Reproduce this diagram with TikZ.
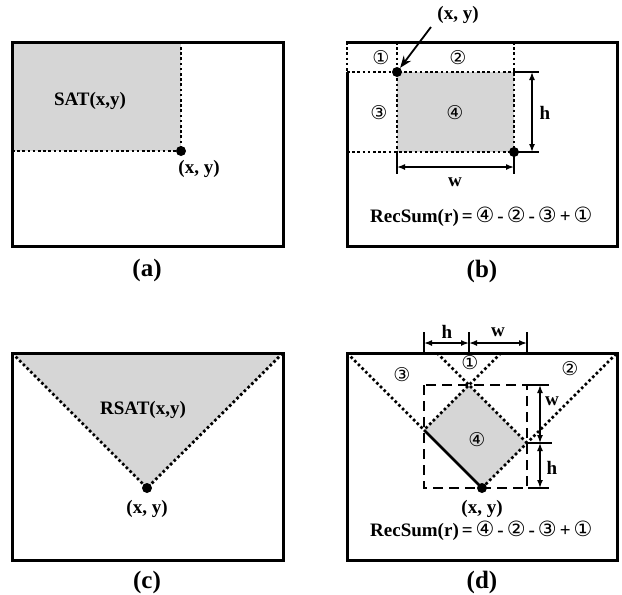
\documentclass[tikz,border=0pt]{standalone}
\usepackage{fontspec}
\setmainfont{Liberation Serif}
\newfontfamily\circf{DejaVu Sans}
\usetikzlibrary{arrows.meta}
\tikzset{
  frame/.style={line width=3pt},
  dotl/.style={line width=2.8pt, dash pattern=on 2.6pt off 2.6pt},
  dashl/.style={line width=2.8pt, dash pattern=on 10pt off 6pt},
  shade/.style={fill=black!16, draw=none},
  lbl/.style={font=\fontsize{19}{21}\selectfont\bfseries, inner sep=0pt},
  capt/.style={font=\fontsize{25}{27}\selectfont\bfseries, inner sep=0pt},
  num/.style={font=\circf\fontsize{19}{20}\selectfont, inner sep=0pt},
  formula/.style={font=\fontsize{19}{21}\selectfont\bfseries, inner sep=0pt, anchor=west},
  blob/.style={circle, fill=black, inner sep=0pt, minimum size=10pt},
  dimarr/.style={line width=1.5pt, {Latex[length=8pt,width=6pt]}-{Latex[length=8pt,width=6pt]}},
  extl/.style={line width=1.5pt},
  pointer/.style={line width=1.8pt, -{Stealth[length=12pt,width=9pt]}}
}
\newcommand{\cf}[1]{{\circf\fontsize{21}{21}\selectfont\mdseries #1}}
\newcommand{\gapsp}{\hspace{3pt}}
\newcommand{\recsum}{RecSum(r)\gapsp=\gapsp\cf{④}\gapsp-\gapsp\cf{②}\gapsp-\gapsp\cf{③}\gapsp+\gapsp\cf{①}}
\begin{document}
\begin{tikzpicture}[x=1pt,y=-1pt]
\useasboundingbox (0,0) rectangle (622,595);

% ---------------- (a) ----------------
\fill[shade] (12,42) rectangle (181,151);
\draw[dotl] (12,151) -- (181,151) -- (181,42);
\draw[frame] (12,42) rectangle (283,246);
\node[blob] (adot) at (181,151) {};
\node[lbl] (asat) at (90,101) {SAT(x,y)};
\node[lbl] (axy) at (199,169) {(x, y)};
\node[capt] (capa) at (147,270) {(a)};

% ---------------- (b) ----------------
\fill[shade] (397,72) rectangle (514,152);
\draw[dotl] (347,72) -- (514,72);
\draw[dotl] (347,152) -- (514,152);
\draw[dotl] (397,42) -- (397,152);
\draw[dotl] (514,42) -- (514,152);
\draw[dotl] (347,42) -- (347,72);
\draw[frame] (347,72) -- (347,246) -- (617,246) -- (617,42) -- (345.5,42);
\node[blob] (btl) at (397,72) {};
\node[blob] (bbr) at (514,152) {};
% h dimension
\coordinate (bh1) at (532,72);
\coordinate (bh2) at (532,152);
\draw[extl] (514,72) -- (539,72);
\draw[extl] (514,152) -- (539,152);
\draw[dimarr] (bh1) -- (bh2);
\node[lbl] (bhl) at (545,113) {h};
% w dimension
\coordinate (bw1) at (397,167);
\coordinate (bw2) at (514,167);
\draw[extl] (397,152) -- (397,174);
\draw[extl] (514,152) -- (514,174);
\draw[dimarr] (bw1) -- (bw2);
\node[lbl] (bwl) at (455,182) {w};
% numbers
\node[num] (b1) at (381,58) {①};
\node[num] (b2) at (458,58) {②};
\node[num] (b3) at (379,113) {③};
\node[num] (b4) at (455,113) {④};
% pointer label
\node[lbl] (bxy) at (458,15) {(x, y)};
\draw[pointer] (431,27) -- (btl);
\node[formula] (bf) at (370,217) {\recsum};
\node[capt] (capb) at (482,271) {(b)};

% ---------------- (c) ----------------
\fill[shade] (12,353) -- (283,353) -- (147,488) -- cycle;
\draw[dotl] (12,353) -- (147,488) -- (283,353);
\draw[frame] (12,353) rectangle (283,560);
\node[blob] (cdot) at (147,488) {};
\node[lbl] (crsat) at (143,410) {RSAT(x,y)};
\node[lbl] (cxy) at (147,509) {(x, y)};
\node[capt] (capc) at (147,582) {(c)};

% ---------------- (d) ----------------
\coordinate (A) at (482,488);
\coordinate (L) at (424,430);
\coordinate (R) at (527,443);
\coordinate (T) at (469,385);
\fill[shade] (L) -- (T) -- (R) -- (A) -- cycle;
\draw[dotl] (347,353) -- (L);
\draw[dotl] (A) -- (R) -- (617,353);
\draw[dotl] (437,353) -- (T) -- (R);
\draw[dotl] (501,353) -- (T) -- (L);
\draw[line width=2.8pt] (L) -- (A);
\draw[dashl] (424,385) rectangle (527,488);
\draw[frame] (347,353) rectangle (617,560);
\node[blob] (ddot) at (A) {};
% top dimensions
\draw[extl] (424,332) -- (424,353);
\draw[extl] (469,332) -- (469,353);
\draw[extl] (527,332) -- (527,353);
\coordinate (dt1) at (424,343);
\coordinate (dt2) at (469,343);
\coordinate (dt3) at (527,343);
\draw[dimarr] (dt1) -- (dt2);
\draw[dimarr] (dt2) -- (dt3);
\node[lbl] (dth) at (447,332) {h};
\node[lbl] (dtw) at (498,332) {w};
% right dimensions
\draw[extl] (528,385) -- (549,385);
\draw[extl] (527,443) -- (552,443);
\draw[extl] (528,488) -- (549,488);
\coordinate (dr1) at (540,385);
\coordinate (dr2) at (540,443);
\coordinate (dr3) at (540,488);
\draw[dimarr] (dr1) -- (dr2);
\draw[dimarr] (dr2) -- (dr3);
\node[lbl] (drw) at (552,401) {w};
\node[lbl] (drh) at (552,468) {h};
% numbers
\node[num] (d1) at (470,363) {①};
\node[num] (d2) at (570,369) {②};
\node[num] (d3) at (402,375) {③};
\node[num] (d4) at (477,440) {④};
\node[lbl] (dxy) at (482,509) {(x, y)};
\node[formula] (df) at (370,531) {\recsum};
\node[capt] (capd) at (482,582) {(d)};
\end{tikzpicture}
\end{document}
